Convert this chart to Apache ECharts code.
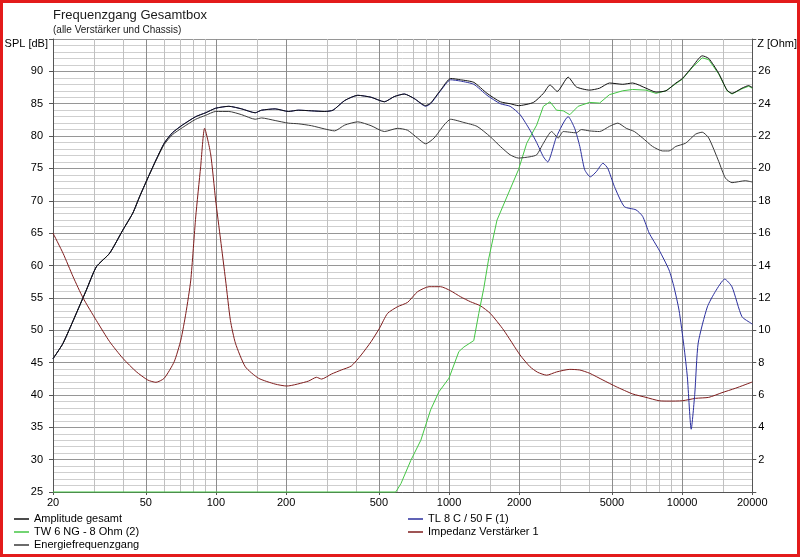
<!DOCTYPE html>
<html><head><meta charset="utf-8">
<script src="https://cdn.jsdelivr.net/npm/echarts@6/dist/echarts.min.js"></script>
<style>
html,body{margin:0;padding:0;background:#fff}
#chart{width:800px;height:557px;position:absolute;left:0;top:0}
#frame{position:absolute;left:0;top:0;width:800px;height:557px;box-sizing:border-box;border:3px solid #e31b1b;pointer-events:none}
</style></head><body>
<div id="chart"></div><div id="frame"></div>
<script>
// ---- tick labels / grid ----
var xLabelValues = [20,50,100,200,500,1000,2000,5000,10000,20000];
var xMinorGrid = [30,40,60,70,80,90,150,300,400,600,700,800,900,1500,3000,4000,6000,7000,8000,9000,15000];

// ---- Amplitude gesamt (SPL dB) ----
var ampFreq = [20,22.1,26.9,27.8,30.7,35,39.9,44,47,51,55.3,60,65,71.8,81.9,90.3,99.7,113.6,129,147.4,157,179.5,204.6,225.6,257,293,318,357,406,463,528,582,643,709,794,834,920,1016,1120,1277,1456,1660,1829,1986,2302,2541,2712,2912,3245,3517,4009,4425,4880,5563,6136,6999,7727,8528,9406,10030,11060,12200,13010,14350,15590,16370,18060,19300,20000];
var ampSpl = [45.6,48.0,55.0,56.2,59.8,61.9,65.5,68.1,70.6,73.5,76.3,78.9,80.5,81.7,83.0,83.6,84.3,84.6,84.2,83.6,84.0,84.2,83.8,84.0,83.9,83.8,84.0,85.5,86.3,86.0,85.3,86.1,86.5,85.8,84.7,85.1,87.1,88.9,88.7,88.3,86.6,85.3,85.0,84.7,85.2,86.6,87.9,86.9,89.1,87.6,87.1,87.4,88.2,88.0,88.2,87.4,86.8,87.0,88.2,88.9,90.7,92.4,92.0,89.7,87.1,86.6,87.4,87.8,87.5];

// ---- Energiefrequenzgang (SPL dB) ----
var enFreq = [20,22.1,26.9,27.8,30.7,35,39.9,44,47,51,55.3,60,65,71.8,81.9,90.3,99.7,113.6,129,147.4,157,179.5,204.6,225.6,257,293,323,357,406,463,528,602,664,732,794,863,952,1016,1158,1319,1503,1660,1829,1986,2226,2377,2541,2754,2942,3090,3517,3697,4009,4425,4880,5300,5760,6240,6770,7466,8240,8790,9400,10350,11430,12200,13010,14350,15340,16370,18660,20000];
var enSpl = [45.6,48.0,55.0,56.2,59.8,61.9,65.5,68.1,70.6,73.5,76.2,78.7,80.2,81.3,82.6,83.2,83.8,83.8,83.3,82.6,82.8,82.4,82.0,81.9,81.6,81.1,80.8,81.7,82.2,81.6,80.7,81.2,80.9,79.7,78.8,79.7,81.7,82.6,82.1,81.5,79.9,78.4,77.1,76.6,76.8,77.1,78.9,80.7,79.7,80.7,80.5,81.0,80.8,80.7,81.5,82.0,81.2,80.7,79.7,78.4,77.7,77.7,78.4,78.9,80.3,80.6,79.7,76.1,73.5,72.8,73.1,72.9];

// ---- TW 6 NG - 8 Ohm (2) (SPL dB) ----
var twFreq = [20,591,622,686,757,834,906,1000,1102,1158,1277,1342,1410,1479,1606,1771,1986,2155,2377,2540,2712,2892,3090,3297,3580,4009,4425,4880,5563,6136,6999,7727,8528,9406,10030,11060,12200,13010,14350,15590,16370,18060,19300,20000];
var twSpl = [25,25,26.3,29.9,33.0,37.7,40.5,42.6,46.7,47.4,48.4,52.6,56.5,61.0,67.0,70.6,74.8,78.9,81.7,84.6,85.3,84.0,83.9,83.3,84.6,85.2,85.1,86.4,87.0,87.2,87.1,86.6,87.0,88.1,88.8,90.6,92.1,91.8,89.6,87.0,86.5,87.3,87.7,87.4];

// ---- TL 8 C / 50 F (1) (SPL dB) ----
var tlFreq = [20,22.1,26.9,27.8,30.7,35,39.9,44,47,51,55.3,60,65,71.8,81.9,90.3,99.7,113.6,129,147.4,157,179.5,204.6,225.6,257,293,318,357,406,463,528,582,643,709,794,834,920,1016,1120,1277,1456,1660,1829,2019,2226,2377,2540,2650,2892,3245,3460,3640,3820,4040,4285,4575,4800,5124,5650,6340,6770,7226,7963,8790,9226,9700,10185,10530,10940,11340,11720,12830,13900,15240,16370,18060,19900,20000];
var tlSpl = [45.6,48.0,55.0,56.2,59.8,61.9,65.5,68.1,70.6,73.5,76.3,78.9,80.5,81.7,83.0,83.6,84.3,84.6,84.2,83.6,84.0,84.2,83.8,84.0,83.9,83.8,84.0,85.5,86.3,86.0,85.3,86.1,86.5,85.8,84.6,85.0,87.0,88.7,88.5,88.0,86.3,85.0,84.6,83.3,80.9,79.0,76.8,76.0,79.9,83.0,81.2,78.4,74.8,73.7,74.5,75.8,75.0,72.2,69.1,68.6,67.6,65.0,62.4,59.3,56.7,53.1,47.5,42.8,34.7,40.3,48.0,53.6,56.0,57.9,56.7,52.1,51.0,50.9];

// ---- Impedanz Verstärker 1 (Ohm) ----
var zFreq = [20,22.1,24.4,26.9,30.7,35,39.9,45.5,51,55.3,60,66.2,70.7,74.3,78,81.9,86,89.4,94.9,99.7,104.7,110,115.4,121.3,133.7,152.4,179.5,201.2,249,270,284,313,345,381,420,463,503,545,601,664,733,821,920,1015,1120,1236,1363,1503,1715,2017,2226,2400,2624,2892,3297,3640,4009,4575,5212,6136,6999,7963,8790,10030,11430,13010,14830,16920,20000];
var zOhm = [16.0,14.75,13.3,12.0,10.6,9.29,8.26,7.44,6.92,6.78,7.03,8.05,9.39,11.04,13.1,17.0,20.1,22.48,20.9,18.05,15.6,13.1,10.6,9.19,7.74,7.03,6.67,6.55,6.85,7.09,6.98,7.29,7.54,7.79,8.47,9.29,10.12,11.04,11.45,11.72,12.38,12.69,12.69,12.44,12.07,11.76,11.51,11.04,10.01,8.47,7.74,7.4,7.22,7.42,7.58,7.54,7.34,6.92,6.51,6.06,5.85,5.64,5.62,5.64,5.79,5.85,6.14,6.41,6.8];

function zip(a, b) { return a.map(function (v, i) { return [v, b[i]]; }); }

var FONT = 'Liberation Sans';
var chart = echarts.init(document.getElementById('chart'), null, {renderer: 'canvas'});

function lineSeries(name, color, fr, vals, yIdx, smooth, clip) {
  return {
    name: name, type: 'line', xAxisIndex: 0, yAxisIndex: yIdx,
    data: zip(fr, vals), showSymbol: false, symbol: 'none',
    smooth: smooth, clip: clip, color: color,
    lineStyle: {width: 1, color: color},
    itemStyle: {color: color},
    emphasis: {disabled: true}
  };
}

chart.setOption({
  animation: false,
  backgroundColor: '#fff',
  textStyle: {fontFamily: FONT},
  title: {
    text: 'Frequenzgang Gesamtbox',
    subtext: '(alle Verstärker und Chassis)',
    left: 48, top: 3, itemGap: 1,
    textStyle: {fontFamily: FONT, fontSize: 13, fontWeight: 'normal', color: '#1a1a1a', lineHeight: 15},
    subtextStyle: {fontFamily: FONT, fontSize: 10, color: '#1a1a1a', lineHeight: 12}
  },
  legend: [
    {
      data: ['Amplitude gesamt', 'TW 6 NG - 8 Ohm (2)', 'Energiefrequenzgang'],
      orient: 'vertical', left: 14, top: 512.5, padding: 0, itemGap: 0,
      icon: 'rect', itemWidth: 15, itemHeight: 1.5, selectedMode: false,
      textStyle: {fontFamily: FONT, fontSize: 11, color: '#000', lineHeight: 13}
    },
    {
      data: ['TL 8 C / 50 F (1)', 'Impedanz Verstärker 1'],
      orient: 'vertical', left: 408, top: 512.5, padding: 0, itemGap: 0,
      icon: 'rect', itemWidth: 15, itemHeight: 1.5, selectedMode: false,
      textStyle: {fontFamily: FONT, fontSize: 11, color: '#000', lineHeight: 13}
    }
  ],
  grid: {left: 53, right: 43, top: 39, bottom: 65, containLabel: false},
  xAxis: [
    {
      type: 'log', logBase: 10, min: 20, max: 20000, position: 'bottom',
      axisLine: {show: true, lineStyle: {color: '#555', width: 1}},
      axisTick: {show: true, length: 3, inside: false, customValues: xLabelValues, lineStyle: {color: '#555'}},
      axisLabel: {show: true, customValues: xLabelValues, margin: 5, color: '#000', fontFamily: FONT, fontSize: 11,
        formatter: function (v) { return String(Math.round(v)); }},
      splitLine: {show: true, lineStyle: {color: '#8c8c8c', width: 1}},
      minorTick: {show: false}, minorSplitLine: {show: false}
    },
    {
      type: 'log', logBase: 10, min: 20, max: 20000, position: 'top',
      axisLine: {show: false},
      axisTick: {show: false, customValues: xMinorGrid},
      axisLabel: {show: false, customValues: xMinorGrid},
      splitLine: {show: true, lineStyle: {color: '#c0c0c0', width: 1}}
    }
  ],
  yAxis: [
    {
      type: 'value', min: 25, max: 95, interval: 5, position: 'left',
      name: 'SPL [dB]', nameLocation: 'end', nameGap: -4.5,
      nameTextStyle: {fontFamily: FONT, fontSize: 11, color: '#000', align: 'right', verticalAlign: 'middle', padding: [0, 5, 0, 0]},
      axisLine: {show: true, lineStyle: {color: '#555'}},
      axisTick: {show: true, length: 4, lineStyle: {color: '#555'}},
      axisLabel: {margin: 10, color: '#000', fontFamily: FONT, fontSize: 11,
        formatter: function (v) { return v === 95 ? '' : String(v); }},
      splitLine: {show: true, lineStyle: {color: '#969696', width: 1}},
      minorTick: {show: false, splitNumber: 5},
      minorSplitLine: {show: true, lineStyle: {color: '#cfcfcf', width: 1}}
    },
    {
      type: 'value', min: 0, max: 28, interval: 2, position: 'right',
      name: 'Z [Ohm]', nameLocation: 'end', nameGap: -4.5,
      nameTextStyle: {fontFamily: FONT, fontSize: 11, color: '#000', align: 'left', verticalAlign: 'middle', padding: [0, 0, 0, 5]},
      axisLine: {show: true, lineStyle: {color: '#555'}},
      axisTick: {show: true, length: 4, lineStyle: {color: '#555'}},
      axisLabel: {margin: 6, color: '#000', fontFamily: FONT, fontSize: 11,
        formatter: function (v) { return (v === 0 || v === 28) ? '' : String(v); }},
      splitLine: {show: false}
    }
  ],
  series: [
    lineSeries('Impedanz Verstärker 1', '#7f1d1d', zFreq, zOhm, 1, 0.2, true),
    lineSeries('TL 8 C / 50 F (1)', '#2b2f9e', tlFreq, tlSpl, 0, 0.2, true),
    lineSeries('TW 6 NG - 8 Ohm (2)', '#44c644', twFreq, twSpl, 0, false, false),
    lineSeries('Energiefrequenzgang', '#3a3a3a', enFreq, enSpl, 0, 0.2, true),
    lineSeries('Amplitude gesamt', '#111111', ampFreq, ampSpl, 0, 0.2, true)
  ]
});
</script>
</body></html>
